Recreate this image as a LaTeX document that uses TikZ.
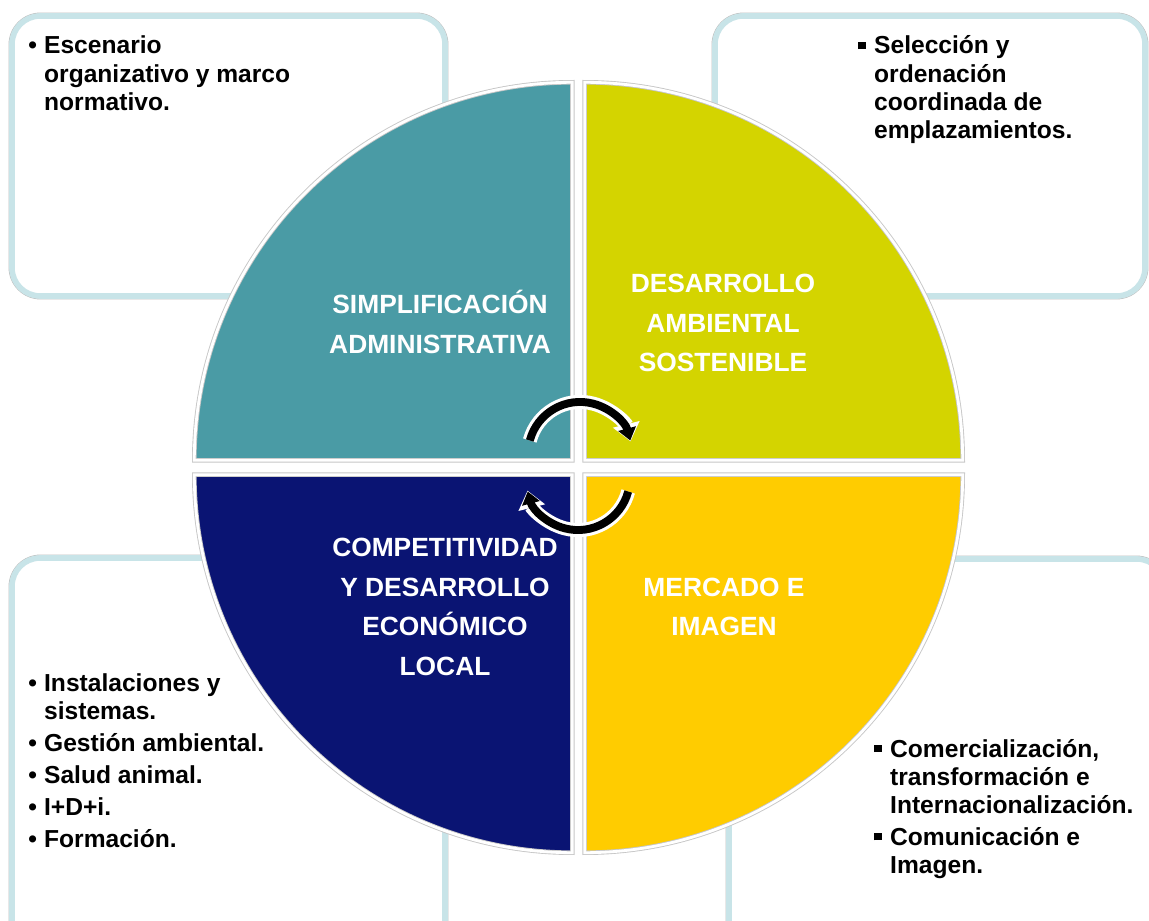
\documentclass[tikz,border=0pt]{standalone}
\usepackage{fontspec}
\setmainfont{Liberation Sans}
\usetikzlibrary{arrows.meta}

\definecolor{quadteal}{HTML}{4A9BA5}
\definecolor{quadlime}{HTML}{D4D400}
\definecolor{quadnavy}{HTML}{0A1473}
\definecolor{quadgold}{HTML}{FFCC00}
\definecolor{framebl}{HTML}{C8E4E8}

\newcommand{\rbul}{\makebox[9pt][l]{\textbullet}}
\newcommand{\sbul}{\makebox[9pt][l]{\rule[0.2em]{0.3em}{0.3em}}}

\begin{document}
\begin{tikzpicture}[x=0.02cm, y=0.02cm,
    boxframe/.style={draw=framebl, line width=3.2pt, rounded corners=16pt, fill=white},
    boxshadow/.style={draw=gray!50, line width=0.5pt, rounded corners=18pt},
    quad/.style={draw=gray!45, line width=0.5pt, double=white, double distance=1.6pt},
    lbl/.style={text=white, align=center, inner sep=0pt, font=\fontsize{15}{22.5}\selectfont\bfseries},
    txt/.style={anchor=base west, inner sep=0pt, font=\fontsize{14}{16}\selectfont\bfseries}]
    \useasboundingbox (0,0) rectangle (1149,920);

    % corner boxes
    \foreach \xa/\ya/\xb/\yb in {12/624/445/904, 715/624/1145/904, 12/-60/445/362, 729/-60/1165/361} {
        \draw[boxshadow] (\xa-3,\ya-3) rectangle (\xb+3,\yb+3);
        \draw[boxframe] (\xa,\ya) rectangle (\xb,\yb);
    }

    % quadrants of the circle
    \foreach \cx/\cy/\a/\col in {572.3/459.7/90/quadteal, 584.7/459.7/0/quadlime,
                                 572.3/445.3/180/quadnavy, 584.7/445.3/270/quadgold} {
        \draw[quad, fill=\col] (\cx,\cy) -- ++(\a:378) arc[start angle=\a, delta angle=90, radius=378] -- cycle;
    }

    % circular arrows
    \draw[white, line width=8pt, -{Triangle[length=10pt, width=15pt]}]
        (529.8,479.5) arc[start angle=165, end angle=14, radius=52];
    \draw[black, line width=4.5pt, -{Triangle[length=7pt, width=10pt]}]
        (529.8,479.5) arc[start angle=165, end angle=15, radius=52];
    \draw[white, line width=8pt, -{Triangle[length=10pt, width=15pt]}]
        (628.2,428.5) arc[start angle=-15, end angle=-166, radius=52];
    \draw[black, line width=4.5pt, -{Triangle[length=7pt, width=10pt]}]
        (628.2,428.5) arc[start angle=-15, end angle=-165, radius=52];

    % labels in the circle
    \node[lbl] (simp) at (440,598) {SIMPLIFICACIÓN\\ADMINISTRATIVA};
    \node[lbl] (desa) at (723,597) {DESARROLLO\\AMBIENTAL\\SOSTENIBLE};
    \node[lbl] (comp) at (445,313) {COMPETITIVIDAD\\Y DESARROLLO\\ECONÓMICO\\LOCAL};
    \node[lbl] (merc) at (724,313) {MERCADO E\\IMAGEN};

    % texts in the boxes
    \node[txt] (esc) at (28,866) {\begin{tabular}[t]{@{}l@{}l@{}}
        \rbul & Escenario\\
              & organizativo y marco\\
              & normativo.
    \end{tabular}};
    \node[txt] (sel) at (858,866) {\begin{tabular}[t]{@{}l@{}l@{}}
        \sbul & Selección y\\
              & ordenación\\
              & coordinada de\\
              & emplazamientos.
    \end{tabular}};
    \node[txt] (ins) at (28,229) {\begin{tabular}[t]{@{}l@{}l@{}}
        \rbul & Instalaciones y\\
              & sistemas.\\[2.3pt]
        \rbul & Gestión ambiental.\\[2.3pt]
        \rbul & Salud animal.\\[2.3pt]
        \rbul & I+D+i.\\[2.3pt]
        \rbul & Formación.
    \end{tabular}};
    \node[txt] (com) at (874,163) {\begin{tabular}[t]{@{}l@{}l@{}}
        \sbul & Comercialización,\\
              & transformación e\\
              & Internacionalización.\\[2.3pt]
        \sbul & Comunicación e\\
              & Imagen.
    \end{tabular}};
\end{tikzpicture}
\end{document}
